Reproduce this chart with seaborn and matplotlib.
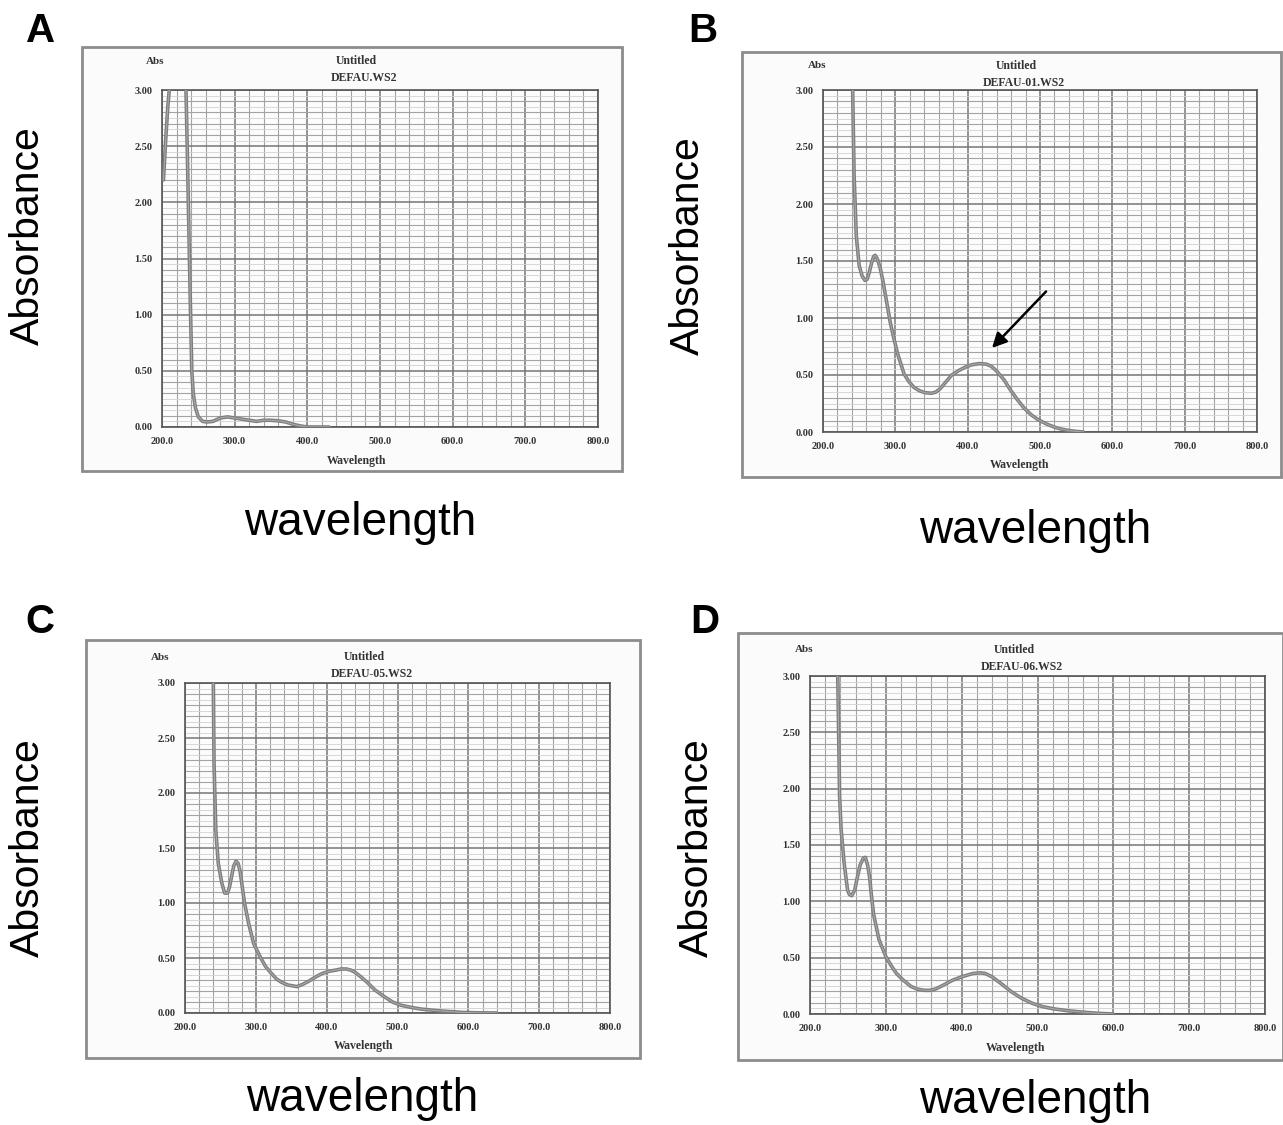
import matplotlib
matplotlib.use("Agg")
import matplotlib.pyplot as plt
from matplotlib.patches import Rectangle
import numpy as np
import pandas as pd
import seaborn as sns

# ---------------- data ----------------
wl_a = [202, 205, 208, 210, 214, 228, 233, 235, 237, 239, 241, 243, 246, 250, 256,
        262, 270, 280, 290, 300, 310, 320, 330, 340, 350, 360, 370, 380, 390, 400, 430]
abs_a = [2.20, 2.55, 2.85, 3.00, 3.60, 3.60, 3.00, 2.40, 1.75, 1.10, 0.50, 0.30, 0.17,
         0.09, 0.05, 0.045, 0.05, 0.08, 0.09, 0.08, 0.07, 0.06, 0.05, 0.06, 0.06, 0.055,
         0.045, 0.025, 0.01, 0.0, 0.0]

wl_b = [238, 241, 243, 246, 250, 254, 258, 261, 264, 267, 270, 272, 275, 279, 283, 286,
        290, 293, 298, 303, 312, 319, 326, 334, 341, 350, 356, 362, 370, 378, 388, 397,
        406, 416, 426, 433, 440, 450, 459, 468, 478, 488, 497, 509, 521, 530, 540, 550, 560]
abs_b = [3.60, 3.00, 2.25, 1.72, 1.46, 1.37, 1.33, 1.34, 1.40, 1.48, 1.54, 1.55, 1.52,
         1.44, 1.32, 1.21, 1.07, 0.96, 0.82, 0.69, 0.51, 0.44, 0.39, 0.36, 0.345, 0.34,
         0.35, 0.38, 0.44, 0.50, 0.54, 0.57, 0.59, 0.60, 0.595, 0.575, 0.535, 0.46, 0.37,
         0.29, 0.21, 0.15, 0.11, 0.07, 0.04, 0.025, 0.013, 0.005, 0.0]

wl_c = [238, 240, 241, 243.5, 247, 252, 256, 260, 263, 266, 269, 272, 275, 278, 281, 284,
        290, 297, 307, 314, 322, 329, 336, 345, 358, 366, 375, 385, 394, 404, 413, 420,
        428, 434, 440, 448, 457, 468, 481, 493, 505, 520, 534, 550, 563, 590, 611, 640]
abs_c = [3.60, 3.00, 2.27, 1.66, 1.36, 1.18, 1.09, 1.09, 1.15, 1.25, 1.34, 1.38, 1.36,
         1.28, 1.14, 1.00, 0.81, 0.63, 0.50, 0.42, 0.36, 0.31, 0.28, 0.255, 0.24, 0.26,
         0.29, 0.33, 0.36, 0.38, 0.39, 0.40, 0.40, 0.39, 0.37, 0.33, 0.28, 0.21, 0.15,
         0.10, 0.07, 0.05, 0.035, 0.025, 0.018, 0.006, 0.002, 0.0]

wl_d = [234, 236.6, 238, 239, 241, 245, 249.5, 252, 255, 259, 262, 266, 270, 273, 276,
        278.5, 281, 284, 291, 300, 307, 314, 323, 333, 342, 351, 358, 365, 377, 388, 400,
        415, 425, 431, 440, 452, 465, 479, 493, 507, 522, 539, 562, 580, 600]
abs_d = [3.60, 3.00, 2.40, 1.94, 1.64, 1.34, 1.10, 1.06, 1.05, 1.10, 1.20, 1.32, 1.38,
         1.39, 1.32, 1.22, 1.05, 0.88, 0.66, 0.51, 0.43, 0.36, 0.30, 0.245, 0.22, 0.21,
         0.21, 0.22, 0.26, 0.30, 0.33, 0.36, 0.365, 0.36, 0.33, 0.27, 0.20, 0.14, 0.095,
         0.065, 0.045, 0.03, 0.015, 0.006, 0.0]

panel_letters = ["A", "B", "C", "D"]
file_names = ["DEFAU.WS2", "DEFAU-01.WS2", "DEFAU-05.WS2", "DEFAU-06.WS2"]
x_ticks = [200, 300, 400, 500, 600, 700, 800]
x_tick_labels = ["200.0", "300.0", "400.0", "500.0", "600.0", "700.0", "800.0"]
y_ticks = [0.0, 0.5, 1.0, 1.5, 2.0, 2.5, 3.0]
y_tick_labels = ["0.00", "0.50", "1.00", "1.50", "2.00", "2.50", "3.00"]
arrow_tail = (511, 1.25)
arrow_head = (431, 0.72)

# ---------------- style ----------------
sns.set_style("white")
plt.rcParams['font.family'] = ['Liberation Sans', 'DejaVu Sans']

W, H = 1283, 1125
fig = plt.figure(figsize=(W / 100, H / 100), dpi=100)
fig.patch.set_facecolor("white")


def frac_rect(l, t, r, b):
    return [l / W, 1 - b / H, (r - l) / W, (b - t) / H]


def fx(x):
    return x / W


def fy(y):
    return 1 - y / H


# layout (pixel coords)
layouts = [
    dict(box=(82, 47, 622, 471), plot=(162, 90, 598, 427), letter=(41, 31),
         abs_=(155, 61), title=(356, 61), wl=(357, 461), ylab=(28, 236), xlab=(360, 523)),
    dict(box=(742, 52, 1281, 477), plot=(823, 90, 1257, 432), letter=(703, 31),
         abs_=(817, 65), title=(1016, 66), wl=(1020, 465), ylab=(688, 246), xlab=(1035, 531)),
    dict(box=(86, 640, 640, 1058), plot=(185, 683, 610, 1013), letter=(40, 622),
         abs_=(160, 657), title=(364, 657), wl=(364, 1046), ylab=(28, 848), xlab=(362, 1099)),
    dict(box=(738, 633, 1283, 1060), plot=(810, 676, 1265, 1014), letter=(705, 622),
         abs_=(804, 650), title=(1014, 650), wl=(1016, 1048), ylab=(697, 848), xlab=(1035, 1101)),
]

series = [(wl_a, abs_a), (wl_b, abs_b), (wl_c, abs_c), (wl_d, abs_d)]
serif = ['Liberation Serif', 'DejaVu Serif']

for i, (lay, (wl, ab)) in enumerate(zip(layouts, series)):
    l, t, r, b = lay["box"]
    rect = Rectangle((fx(l), fy(b)), (r - l) / W, (b - t) / H, transform=fig.transFigure,
                     facecolor="#fbfbfb", edgecolor="#8c8c8c", lw=2.0, zorder=-5)
    fig.patches.append(rect)

    ax = fig.add_axes(frac_rect(*lay["plot"]))
    ax.set_facecolor("#fcfcfc")
    df = pd.DataFrame({"Wavelength": wl, "Abs": ab})
    sns.lineplot(data=df, x="Wavelength", y="Abs", ax=ax, color="#7d7d7d", lw=2.6,
                 sort=False, estimator=None, zorder=5)
    sns.lineplot(data=df, x="Wavelength", y="Abs", ax=ax, color="#a8a8a8", lw=0.8,
                 sort=False, estimator=None, zorder=6)
    ax.set_xlim(200, 800)
    ax.set_ylim(0, 3.0)

    # grid
    for xv in np.arange(200, 801, 20):
        major = (xv % 100 == 0)
        ax.axvline(xv, color="#767676" if major else "#a3a3a3",
                   lw=1.1 if major else 0.8, zorder=1)
    for yv in np.arange(0, 3.001, 0.05):
        k = int(round(yv * 100))
        if k % 50 == 0:
            ax.axhline(yv, color="#767676", lw=1.1, zorder=1)
        elif k % 10 == 0:
            ax.axhline(yv, color="#a3a3a3", lw=0.8, zorder=1)
        else:
            ax.axhline(yv, color="#d2d2d2", lw=0.6, zorder=1)

    ax.set_xticks(x_ticks)
    ax.set_xticklabels(x_tick_labels, family=serif, fontweight="bold", fontsize=7.5,
                       color="#333333")
    ax.set_yticks(y_ticks)
    ax.set_yticklabels(y_tick_labels, family=serif, fontweight="bold", fontsize=7.5,
                       color="#333333")
    ax.tick_params(length=0, pad=7)
    ax.set_xlabel("")
    ax.set_ylabel("")
    for s in ax.spines.values():
        s.set_color("#555555")
        s.set_linewidth(1.2)
        s.set_visible(True)

    if i == 1:
        ax.annotate("", xy=arrow_head, xytext=arrow_tail,
                    arrowprops=dict(arrowstyle="-|>", color="black", lw=1.8,
                                    mutation_scale=22), zorder=10)

    # inner texts
    fig.text(fx(lay["abs_"][0]), fy(lay["abs_"][1]), "Abs", family=serif,
             fontweight="bold", fontsize=8, ha="center", va="center", color="#333333")
    fig.text(fx(lay["title"][0]), fy(lay["title"][1]), "Untitled", family=serif,
             fontweight="bold", fontsize=8.5, ha="center", va="center", color="#333333")
    fig.text(fx(lay["title"][0] + 8), fy(lay["title"][1] + 17), file_names[i], family=serif,
             fontweight="bold", fontsize=8.5, ha="center", va="center", color="#333333")
    fig.text(fx(lay["wl"][0]), fy(lay["wl"][1]), "Wavelength", family=serif,
             fontweight="bold", fontsize=8.5, ha="center", va="center", color="#333333")

    # outer labels
    fig.text(fx(lay["letter"][0]), fy(lay["letter"][1]), panel_letters[i],
             fontsize=29, fontweight="bold", ha="center", va="center", color="black")
    fig.text(fx(lay["ylab"][0]), fy(lay["ylab"][1]), "Absorbance", fontsize=29.5,
             rotation=90, ha="center", va="center", color="black")
    fig.text(fx(lay["xlab"][0]), fy(lay["xlab"][1]), "wavelength", fontsize=33,
             ha="center", va="center", color="black")

fig.savefig("out.png", dpi=100, facecolor="white")
